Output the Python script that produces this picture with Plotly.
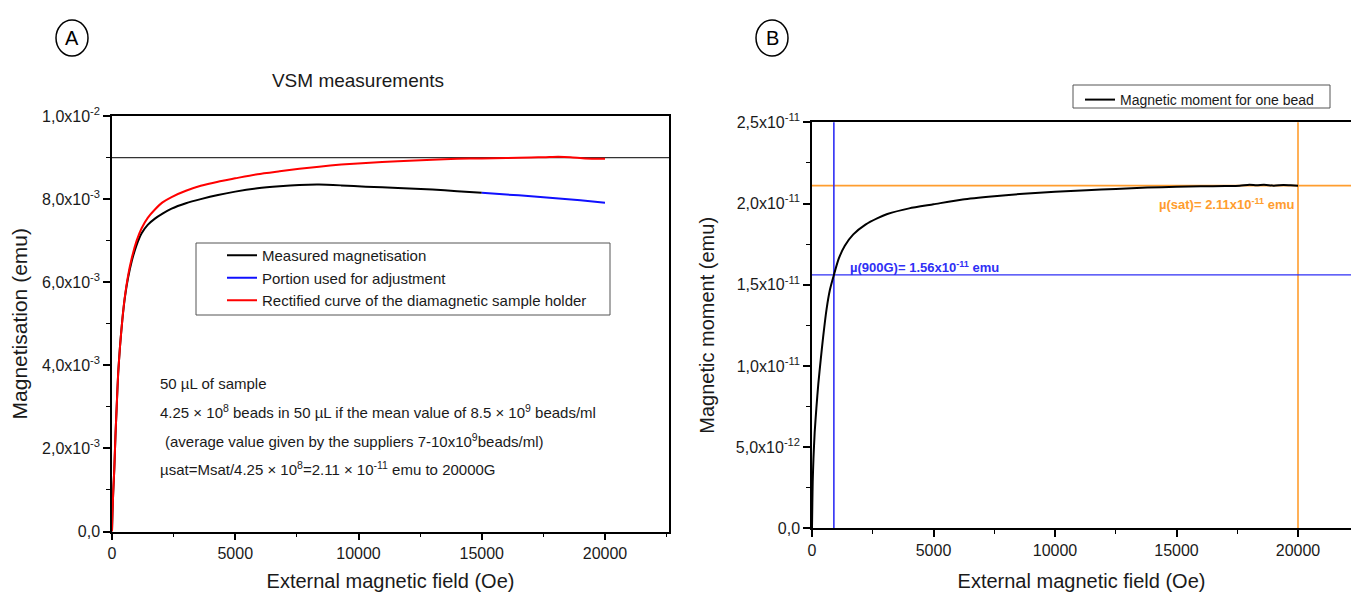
import numpy as np
import plotly.graph_objects as go

W, H = 1351, 594

# ---------------- Data (panel A) ----------------
# field in Oe, magnetisation in units of 1e-3 emu
field_meas = [0, 20, 50, 93, 140, 190, 250, 324, 420, 526, 650, 797, 1000, 1202, 1450, 1741,
              2050, 2417, 3000, 3600, 4300, 5000, 5900, 6800, 7600, 8400, 9300, 10300, 11600,
              13000, 14000, 15000]
mag_meas = [0, 0.45, 0.95, 1.5, 2.3, 3.0, 3.8, 4.45, 5.1, 5.65, 6.1, 6.5, 6.9, 7.18, 7.38, 7.53,
            7.65, 7.77, 7.9, 8.0, 8.1, 8.18, 8.26, 8.31, 8.34, 8.35, 8.33, 8.30, 8.27,
            8.23, 8.19, 8.15]

field_adj = [15000, 16000, 17000, 18000, 19000, 20000]
mag_adj = [8.15, 8.11, 8.07, 8.02, 7.97, 7.91]

field_rect = [0, 20, 50, 93, 140, 190, 250, 324, 420, 526, 650, 797, 1000, 1202, 1450, 1741,
              2050, 2417, 3000, 3600, 4300, 5000, 5900, 6800, 7600, 8400, 9300, 10300, 11600,
              13000, 14000, 15000, 16000, 17000, 17600, 18100, 18600, 19200, 20000]
mag_rect = [0, 0.45, 0.95, 1.5, 2.3, 3.0, 3.8, 4.45, 5.1, 5.67, 6.15, 6.57, 7.0, 7.3, 7.55, 7.75,
            7.92, 8.05, 8.2, 8.32, 8.42, 8.5, 8.6, 8.67, 8.73, 8.78, 8.83, 8.87, 8.91,
            8.95, 8.97, 8.98, 8.99, 9.0, 9.01, 9.02, 9.01, 8.98, 8.97]

mag_sat_line = 9.0  # 1e-3 emu, horizontal reference line

# ---------------- Data (panel B) ----------------
# field in Oe, moment in units of 1e-12 emu
field_bead = [0, 15, 30, 60, 110, 180, 260, 360, 460, 600, 740, 900, 1100, 1350, 1700, 2200,
              2700, 3100, 4000, 5000, 6200, 7500, 8700, 10000, 11300, 12500, 13800, 15000,
              16000, 17000, 17600, 18000, 18300, 18600, 19000, 19400, 19700, 20000]
moment_bead = [0, 1.6, 2.9, 4.3, 5.9, 7.4, 8.9, 10.4, 11.8, 13.5, 14.7, 15.6, 16.6, 17.4, 18.1,
               18.7, 19.1, 19.35, 19.7, 19.95, 20.25, 20.45, 20.6, 20.72, 20.82, 20.9, 20.98,
               21.03, 21.06, 21.08, 21.1, 21.16, 21.12, 21.15, 21.1, 21.14, 21.12, 21.1]

field_900 = 900
mu_900 = 15.6     # 1e-12 emu
field_sat = 20000
mu_sat = 21.1     # 1e-12 emu

# tick labels
x_ticks = [0, 5000, 10000, 15000, 20000]
x_ticktext = ["0", "5000", "10000", "15000", "20000"]
yA_ticks = [0, 2e-3, 4e-3, 6e-3, 8e-3, 1e-2]
yA_ticktext = ["0,0", "2,0x10<sup>-3</sup>", "4,0x10<sup>-3</sup>", "6,0x10<sup>-3</sup>",
               "8,0x10<sup>-3</sup>", "1,0x10<sup>-2</sup>"]
yB_ticks = [0, 5e-12, 1e-11, 1.5e-11, 2e-11, 2.5e-11]
yB_ticktext = ["0,0", "5,0x10<sup>-12</sup>", "1,0x10<sup>-11</sup>", "1,5x10<sup>-11</sup>",
               "2,0x10<sup>-11</sup>", "2,5x10<sup>-11</sup>"]

mA = 1e-3
mB = 1e-12

FONT = "Liberation Sans, Arial, sans-serif"
BLUE = "#2F2FF5"
ORANGE = "#FF9D2E"


def px(x):
    return x / W


def py(y):
    return 1 - y / H


fig = go.Figure()

fig.add_trace(go.Scatter(x=field_meas, y=np.array(mag_meas) * mA, mode="lines",
                         line=dict(color="black", width=2, shape="spline", smoothing=0.6),
                         name="Measured magnetisation", xaxis="x", yaxis="y", legend="legend"))
fig.add_trace(go.Scatter(x=field_adj, y=np.array(mag_adj) * mA, mode="lines",
                         line=dict(color="#1010FF", width=2, shape="spline", smoothing=0.6),
                         name="Portion used for adjustment", xaxis="x", yaxis="y", legend="legend"))
fig.add_trace(go.Scatter(x=field_rect, y=np.array(mag_rect) * mA, mode="lines",
                         line=dict(color="#FF0000", width=2, shape="spline", smoothing=0.6),
                         name="Rectified curve of the diamagnetic sample holder",
                         xaxis="x", yaxis="y", legend="legend"))
fig.add_trace(go.Scatter(x=field_bead, y=np.array(moment_bead) * mB, mode="lines",
                         line=dict(color="black", width=2, shape="spline", smoothing=0.6),
                         name="Magnetic moment for one bead", xaxis="x2", yaxis="y2",
                         legend="legend2"))

# reference lines
fig.add_shape(type="line", xref="x domain", x0=0, x1=1, yref="y", y0=mag_sat_line * mA,
              y1=mag_sat_line * mA, line=dict(color="#333333", width=1.2), layer="below")
fig.add_shape(type="line", xref="x2 domain", x0=0, x1=1, yref="y2", y0=mu_sat * mB,
              y1=mu_sat * mB, line=dict(color=ORANGE, width=1.6), layer="below")
fig.add_shape(type="line", xref="x2", x0=field_sat, x1=field_sat, yref="y2 domain", y0=0,
              y1=1, line=dict(color=ORANGE, width=1.6), layer="below")
fig.add_shape(type="line", xref="x2 domain", x0=0, x1=1, yref="y2", y0=mu_900 * mB,
              y1=mu_900 * mB, line=dict(color=BLUE, width=1.3), layer="below")
fig.add_shape(type="line", xref="x2", x0=field_900, x1=field_900, yref="y2 domain", y0=0,
              y1=1, line=dict(color=BLUE, width=1.6), layer="below")

# legend boxes
fig.add_shape(type="rect", xref="paper", yref="paper", x0=px(196), x1=px(610), y0=py(243),
              y1=py(315), line=dict(color="#555555", width=1), fillcolor="white", layer="below")
fig.add_shape(type="rect", xref="paper", yref="paper", x0=px(1073), x1=px(1330), y0=py(85),
              y1=py(108), line=dict(color="#555555", width=1), fillcolor="white", layer="below")

# panel letters in circles
for cx, letter in [(72, "A"), (772, "B")]:
    fig.add_shape(type="circle", xref="paper", yref="paper", x0=px(cx - 16), x1=px(cx + 16),
                  y0=py(38 - 18), y1=py(38 + 18), line=dict(color="black", width=1.5))
    fig.add_annotation(text=letter, xref="paper", yref="paper", x=px(cx), y=py(38),
                       showarrow=False, font=dict(family=FONT, size=20, color="black"),
                       xanchor="center", yanchor="middle")

# panel A text block
lines_A = [
    ("50 µL of sample", 158, 383),
    ("4.25 × 10<sup>8</sup> beads in 50 µL if the mean value of 8.5 × 10<sup>9</sup> beads/ml", 158, 412),
    ("(average value given by the suppliers 7-10x10<sup>9</sup>beads/ml)", 163, 440),
    ("µsat=Msat/4.25 × 10<sup>8</sup>=2.11 × 10<sup>-11</sup> emu to 20000G", 158, 468),
]
for txt, x0, y0 in lines_A:
    fig.add_annotation(text=txt, xref="paper", yref="paper", x=px(x0), y=py(y0),
                       showarrow=False, xanchor="left", yanchor="middle",
                       font=dict(family=FONT, size=15, color="#1a1a1a"))

# panel B labels
fig.add_annotation(text="µ(900G)= 1.56x10<sup>-11</sup> emu", xref="x2", yref="y2",
                   x=1500, y=mu_900 * mB, xanchor="left", yanchor="bottom", showarrow=False,
                   yshift=-2, font=dict(family=FONT, size=13, color=BLUE, weight="bold"))
fig.add_annotation(text="µ(sat)= 2.11x10<sup>-11</sup> emu", xref="x2", yref="y2",
                   x=19900, y=mu_sat * mB, xanchor="right", yanchor="top", showarrow=False,
                   yshift=-8, font=dict(family=FONT, size=13, color=ORANGE, weight="bold"))

axis_common = dict(showline=True, linecolor="black", linewidth=1.5, ticks="outside",
                   ticklen=7, tickwidth=1.5, tickcolor="black", showgrid=False, zeroline=False,
                   tickfont=dict(family=FONT, size=16, color="#1a1a1a"), automargin=False)

fig.update_layout(
    width=W, height=H, margin=dict(l=0, r=0, t=0, b=0),
    paper_bgcolor="white", plot_bgcolor="white",
    title=dict(text="VSM measurements", x=px(358), y=py(80), xanchor="center", yanchor="middle",
               font=dict(family=FONT, size=19, color="#1a1a1a")),
    xaxis=dict(domain=[px(112), px(669)], range=[0, 22596], anchor="y", mirror=True,
               tickmode="array", tickvals=x_ticks, ticktext=x_ticktext,
               minor=dict(tickmode="array", tickvals=[2500, 7500, 12500, 17500, 22500],
                          ticks="outside", ticklen=4, tickwidth=1.2, tickcolor="black"),
               title=dict(text="External magnetic field (Oe)", standoff=13,
                          font=dict(family=FONT, size=20, color="#1a1a1a")),
               **axis_common),
    yaxis=dict(domain=[py(531.5), py(116)], range=[0, 0.01], anchor="x", mirror=True,
               tickmode="array", tickvals=yA_ticks, ticktext=yA_ticktext,
               minor=dict(tickmode="array", tickvals=[1e-3, 3e-3, 5e-3, 7e-3, 9e-3],
                          ticks="outside", ticklen=4, tickwidth=1.2, tickcolor="black"),
               title=dict(text="Magnetisation (emu)", standoff=9,
                          font=dict(family=FONT, size=21, color="#1a1a1a")),
               **axis_common),
    xaxis2=dict(domain=[px(812), 1.0], range=[0, 22181], anchor="y2", mirror=True,
                tickmode="array", tickvals=x_ticks, ticktext=x_ticktext,
                minor=dict(tickmode="array", tickvals=[2500, 7500, 12500, 17500],
                           ticks="outside", ticklen=4, tickwidth=1.2, tickcolor="black"),
                title=dict(text="External magnetic field (Oe)", standoff=16,
                           font=dict(family=FONT, size=20, color="#1a1a1a")),
                **axis_common),
    yaxis2=dict(domain=[py(528.3), py(122.3)], range=[0, 2.5e-11], anchor="x2",
                tickmode="array", tickvals=yB_ticks, ticktext=yB_ticktext,
                minor=dict(tickmode="array", tickvals=[2.5e-12, 7.5e-12, 1.25e-11, 1.75e-11, 2.25e-11],
                           ticks="outside", ticklen=4, tickwidth=1.2, tickcolor="black"),
                title=dict(text="Magnetic moment (emu)", standoff=16,
                           font=dict(family=FONT, size=20, color="#1a1a1a")),
                **axis_common),
    legend=dict(x=px(222), y=py(239), xanchor="left", yanchor="top", bgcolor="rgba(0,0,0,0)",
                borderwidth=0, font=dict(family=FONT, size=15, color="#1a1a1a"),
                itemwidth=30, tracegroupgap=0),
    legend2=dict(x=px(1080), y=py(84), xanchor="left", yanchor="top", bgcolor="rgba(0,0,0,0)",
                 borderwidth=0, font=dict(family=FONT, size=14, color="#1a1a1a"),
                 itemwidth=30),
    showlegend=True,
)

fig.write_html("out.html", config={"displayModeBar": False},
               post_script="document.body.style.margin='0px';")
